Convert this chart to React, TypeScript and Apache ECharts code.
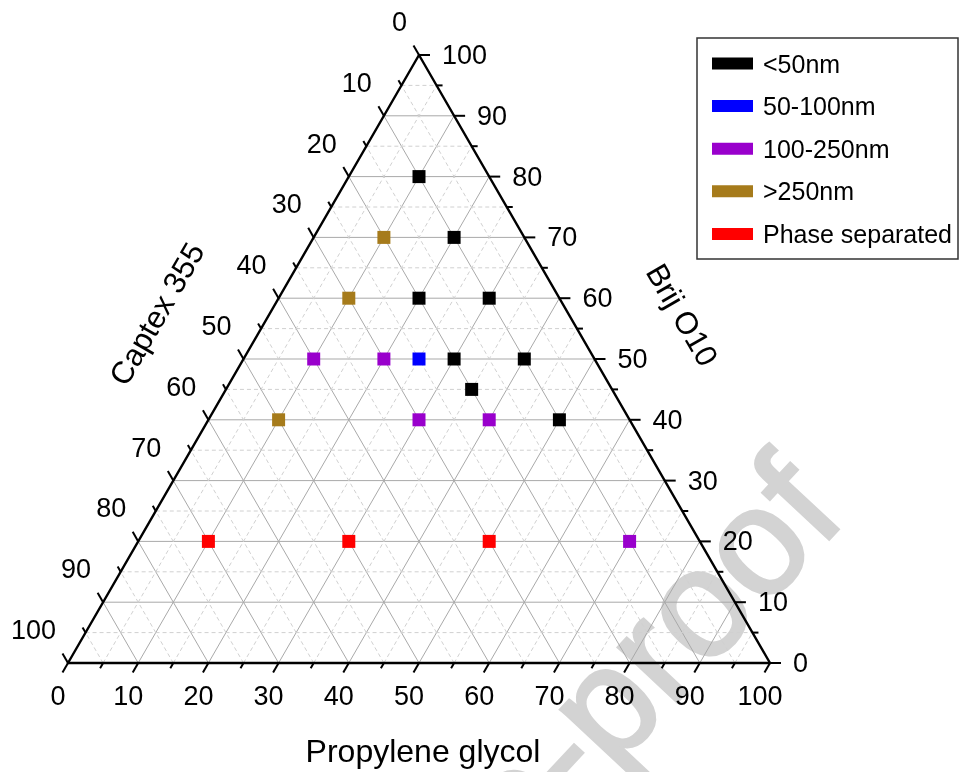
import React, { useEffect, useRef } from 'react';
import * as echarts from 'echarts';

// ---------- DATA ----------
// Each point: [Propylene glycol, Brij O10, Captex 355] (percent)
const categories = ['<50nm', '50-100nm', '100-250nm', '>250nm', 'Phase separated'];
const categoryColors = ['#000000', '#0000ff', '#9900cc', '#a67b1b', '#ff0000'];

const below50nm = [
  [10, 80, 10], [20, 70, 10], [20, 60, 20], [30, 60, 10],
  [30, 50, 20], [40, 50, 10], [35, 45, 20], [50, 40, 10],
];
const from50to100nm = [[25, 50, 25]];
const from100to250nm = [[10, 50, 40], [20, 50, 30], [30, 40, 30], [40, 40, 20], [70, 20, 10]];
const above250nm = [[10, 70, 20], [10, 60, 30], [10, 40, 50]];
const phaseSeparated = [[10, 20, 70], [30, 20, 50], [50, 20, 30]];
const seriesData = [below50nm, from50to100nm, from100to250nm, above250nm, phaseSeparated];

const majorTicks = [0, 10, 20, 30, 40, 50, 60, 70, 80, 90, 100];
const minorTicks = [5, 15, 25, 35, 45, 55, 65, 75, 85, 95];
const tickLabels = ['0', '10', '20', '30', '40', '50', '60', '70', '80', '90', '100'];

const axisTitles = { bottom: 'Propylene glycol', left: 'Captex 355', right: 'Brij O10' };
const watermark = 'Journal Pre-proof';

// ternary (PG, Brij) -> cartesian
const toXY = (pg: number, brij: number) => [pg + brij / 2, brij];

const FONT = 'Arial, "Liberation Sans", sans-serif';

export default function App() {
  const ref = useRef<HTMLDivElement>(null);
  useEffect(() => {
    if (!ref.current) return;
    const chart = echarts.init(ref.current, null, { renderer: 'svg' });

    // grid segments: [x1, y1, x2, y2, major(1)/minor(0)]
    const gridSegs: number[][] = [];
    const addFamily = (v: number, major: number) => {
      if (v <= 0 || v >= 100) return;
      let a = toXY(0, v), b = toXY(100 - v, v);
      gridSegs.push([a[0], a[1], b[0], b[1], major]);
      a = toXY(v, 0); b = toXY(v, 100 - v);
      gridSegs.push([a[0], a[1], b[0], b[1], major]);
      a = toXY(100 - v, 0); b = toXY(0, 100 - v);
      gridSegs.push([a[0], a[1], b[0], b[1], major]);
    };
    majorTicks.forEach((v) => addFamily(v, 1));
    minorTicks.forEach((v) => addFamily(v, 0));

    const V1 = toXY(0, 0), V2 = toXY(100, 0), V3 = toXY(0, 100);
    const edges = [
      [V1[0], V1[1], V2[0], V2[1]],
      [V2[0], V2[1], V3[0], V3[1]],
      [V3[0], V3[1], V1[0], V1[1]],
    ];

    // ticks: [x, y, axis(0 bottom,1 right,2 left), major, labelIndex]
    const ticks: number[][] = [];
    const addTicks = (v: number, major: number, li: number) => {
      let p = toXY(v, 0);
      ticks.push([p[0], p[1], 0, major, li]);
      p = toXY(100 - v, v);
      ticks.push([p[0], p[1], 1, major, li]);
      p = toXY(0, 100 - v);
      ticks.push([p[0], p[1], 2, major, li]);
    };
    majorTicks.forEach((v, i) => addTicks(v, 1, i));
    minorTicks.forEach((v) => addTicks(v, 0, -1));

    const dirs = [
      [-0.5, 0.866],
      [1, 0],
      [-0.5, -0.866],
    ];
    const labelOff = [
      { dx: -10, dy: 33, align: 'center' },
      { dx: 23, dy: 0, align: 'left' },
      { dx: -12, dy: -33, align: 'right' },
    ];

    const option: any = {
      animation: false,
      grid: { left: 68, top: 55, width: 702, height: 608 },
      xAxis: { type: 'value', min: 0, max: 100, show: false },
      yAxis: { type: 'value', min: 0, max: 100, show: false },
      series: [
        {
          type: 'custom',
          coordinateSystem: 'cartesian2d',
          silent: true,
          z: 1,
          encode: { x: [0, 2], y: [1, 3] },
          data: gridSegs,
          renderItem: (_p: any, api: any) => {
            const a = api.coord([api.value(0), api.value(1)]);
            const b = api.coord([api.value(2), api.value(3)]);
            const major = api.value(4) === 1;
            return {
              type: 'line',
              shape: { x1: a[0], y1: a[1], x2: b[0], y2: b[1] },
              style: major
                ? { stroke: '#a9a9a9', lineWidth: 1 }
                : { stroke: '#d0d0d0', lineWidth: 1, lineDash: [4, 3] },
            };
          },
        },
        {
          type: 'custom',
          coordinateSystem: 'cartesian2d',
          silent: true,
          z: 2,
          encode: { x: [0, 2], y: [1, 3] },
          data: edges,
          renderItem: (_p: any, api: any) => {
            const a = api.coord([api.value(0), api.value(1)]);
            const b = api.coord([api.value(2), api.value(3)]);
            return {
              type: 'line',
              shape: { x1: a[0], y1: a[1], x2: b[0], y2: b[1] },
              style: { stroke: '#000', lineWidth: 2.4, lineCap: 'round' },
            };
          },
        },
        {
          type: 'custom',
          coordinateSystem: 'cartesian2d',
          silent: true,
          z: 2,
          encode: { x: 0, y: 1 },
          data: ticks,
          renderItem: (_p: any, api: any) => {
            const p = api.coord([api.value(0), api.value(1)]);
            const ax = api.value(2);
            const major = api.value(3) === 1;
            const li = api.value(4);
            const len = major ? 11 : 6;
            const d = dirs[ax];
            const children: any[] = [
              {
                type: 'line',
                shape: { x1: p[0], y1: p[1], x2: p[0] + d[0] * len, y2: p[1] + d[1] * len },
                style: { stroke: '#000', lineWidth: 2 },
              },
            ];
            if (major && li >= 0) {
              const o = labelOff[ax];
              children.push({
                type: 'text',
                x: p[0] + o.dx,
                y: p[1] + o.dy,
                style: {
                  text: tickLabels[li],
                  fill: '#000',
                  fontSize: 27,
                  fontFamily: FONT,
                  align: o.align,
                  verticalAlign: 'middle',
                },
              });
            }
            return { type: 'group', children };
          },
        },
        ...categories.map((name, i) => ({
          type: 'scatter',
          name,
          z: 5,
          symbol: 'rect',
          symbolSize: 13,
          itemStyle: { color: categoryColors[i], opacity: 1 },
          data: seriesData[i].map((d) => toXY(d[0], d[1])),
        })),
      ],
      graphic: [
        {
          type: 'text',
          z: 0,
          x: 810,
          y: 482,
          rotation: (47 * Math.PI) / 180,
          silent: true,
          style: {
            text: watermark,
            fontSize: 152,
            fontFamily: FONT,
            fill: '#d3d3d3',
            stroke: '#d3d3d3',
            lineWidth: 3,
            align: 'right',
            verticalAlign: 'middle',
          },
        },
        {
          type: 'text',
          z: 10,
          x: 423,
          y: 751,
          style: { text: axisTitles.bottom, fontSize: 32, fontFamily: FONT, fill: '#000', align: 'center', verticalAlign: 'middle' },
        },
        {
          type: 'text',
          z: 10,
          x: 157,
          y: 314,
          rotation: Math.PI / 3,
          style: { text: axisTitles.left, fontSize: 31, fontFamily: FONT, fill: '#000', align: 'center', verticalAlign: 'middle' },
        },
        {
          type: 'text',
          z: 10,
          x: 682,
          y: 315,
          rotation: -Math.PI / 3,
          style: { text: axisTitles.right, fontSize: 31, fontFamily: FONT, fill: '#000', align: 'center', verticalAlign: 'middle' },
        },
        {
          type: 'rect',
          shape: { x: 697, y: 38, width: 261, height: 221 },
          style: { fill: '#fff', stroke: '#333', lineWidth: 1.5 },
          z: 10,
        },
        ...categories.flatMap((name, i) => [
          {
            type: 'rect',
            z: 11,
            shape: { x: 712, y: 63.5 + i * 42.6 - 6, width: 41, height: 12 },
            style: { fill: categoryColors[i] },
          },
          {
            type: 'text',
            z: 11,
            x: 763,
            y: 63.5 + i * 42.6,
            style: { text: name, fontSize: 25, fontFamily: FONT, fill: '#000', align: 'left', verticalAlign: 'middle' },
          },
        ]),
      ],
    };
    chart.setOption(option);
    return () => chart.dispose();
  }, []);
  return <div ref={ref} style={{ position: 'fixed', left: 0, top: 0, width: 960, height: 772 }} />;
}
